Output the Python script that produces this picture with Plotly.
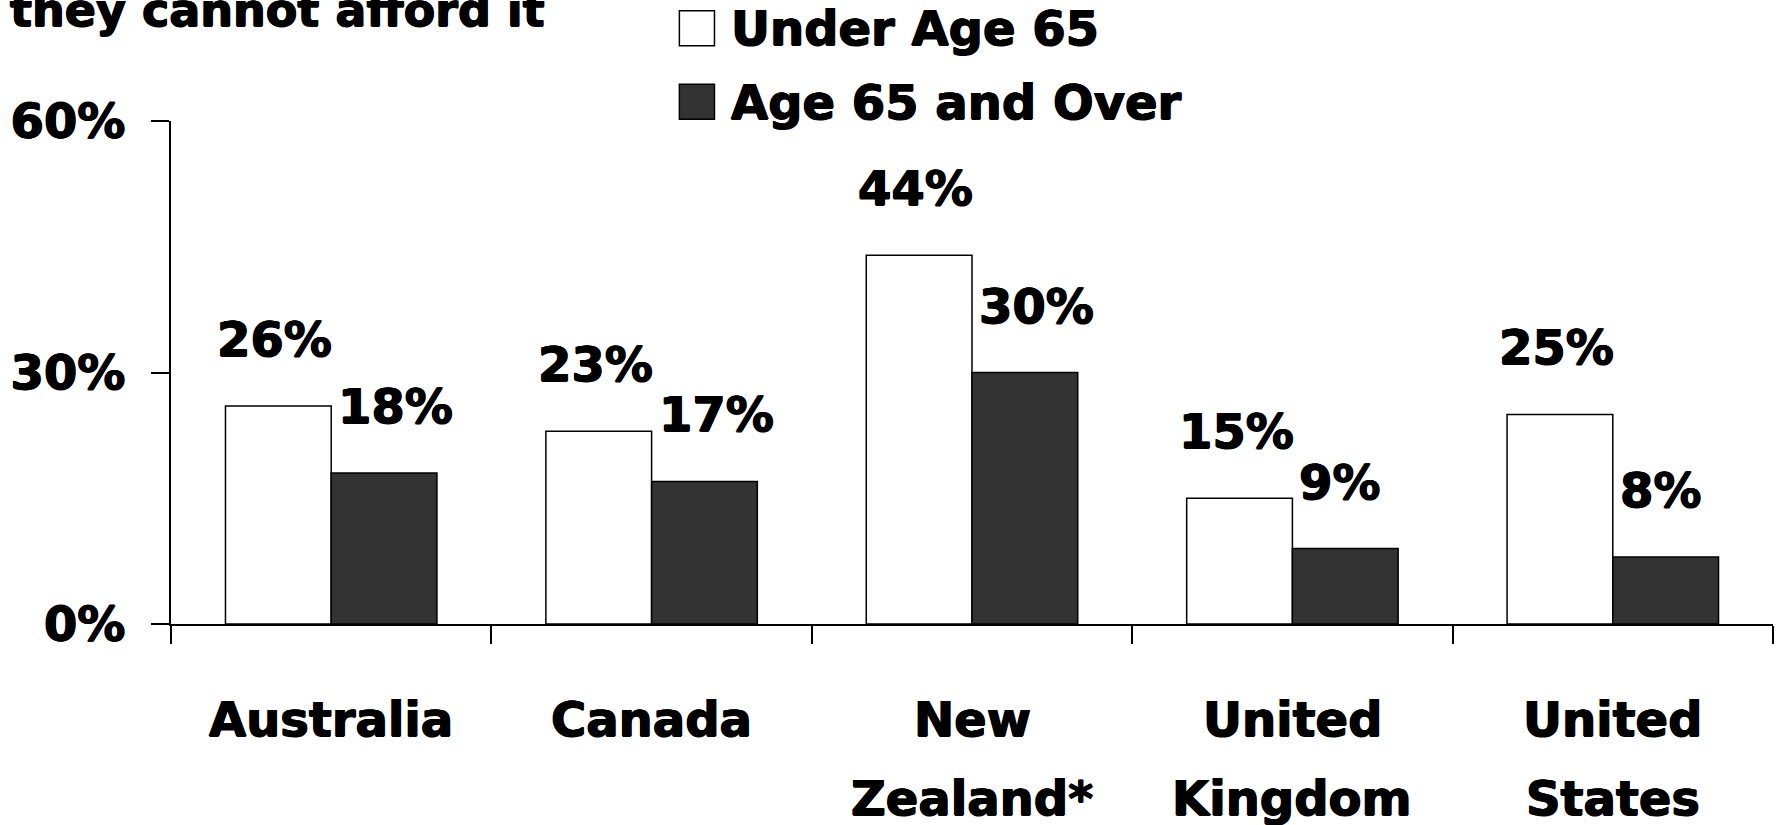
import plotly.graph_objects as go

# Data
categories = ["Australia", "Canada", "New Zealand*", "United Kingdom", "United States"]
category_lines = [["Australia"], ["Canada"], ["New", "Zealand*"], ["United", "Kingdom"], ["United", "States"]]
under_65 = [26, 23, 44, 15, 25]
age_65_over = [18, 17, 30, 9, 8]
series_names = ["Under Age 65", "Age 65 and Over"]
y_tick_vals = [0, 30, 60]
y_tick_text = ["0%", "30%", "60%"]
title_text = "they cannot afford it"

# Figure geometry (pixels)
W, H = 1779, 825
ML, MR, MT, MB = 171.2, 5.7, 120.7, 200.7
PW, PH = W - ML - MR, H - MT - MB

FONT = "DejaVu Sans"
FS = 48
BARGAP = 0.34
half = (1 - BARGAP) / 2
colors = ["#ffffff", "#333333"]
# slight outline to give the bold face a heavier look
HEAVY = "0.7px 0 0 #000, -0.7px 0 0 #000, 0 0.5px 0 #000, 0 -0.5px 0 #000"


def px_x(x):
    return (x - ML) / PW


def px_y(y):
    return (H - MB - y) / PH


fig = go.Figure()
for name, vals, col in zip(series_names, [under_65, age_65_over], colors):
    fig.add_trace(go.Bar(
        x=categories, y=vals, name=name,
        marker=dict(color=col, line=dict(color="#000000", width=1.5)),
        showlegend=False,
    ))

annotations = []
label_font = dict(family=FONT, size=FS, color="#000000", weight="bold", shadow=HEAVY)

# Value labels above the bars
for i, (a, b) in enumerate(zip(under_65, age_65_over)):
    annotations.append(dict(x=i - half, y=a, xref="x", yref="y", text=f"{a}%",
                            xanchor="left", yanchor="middle", xshift=-10, yshift=67,
                            showarrow=False, font=label_font))
    annotations.append(dict(x=i, y=b, xref="x", yref="y", text=f"{b}%",
                            xanchor="left", yanchor="middle", xshift=5, yshift=67,
                            showarrow=False, font=label_font))

# Category labels below the axis
for i, lines in enumerate(category_lines):
    for j, line in enumerate(lines):
        annotations.append(dict(x=i, y=px_y(719.5 + 79.5 * j), xref="x", yref="paper",
                                text=line, xanchor="center", yanchor="middle",
                                showarrow=False, font=label_font))

# Title fragment at the top-left
annotations.append(dict(x=px_x(8), y=px_y(10), xref="paper", yref="paper",
                        text=title_text, xanchor="left", yanchor="middle",
                        showarrow=False,
                        font=dict(family=FONT, size=46, color="#000000", weight="bold", shadow=HEAVY)))

# Legend drawn as boxes and labels
shapes = []
legend_rows = [27.8, 101.5]
for name, col, yc in zip(series_names, colors, legend_rows):
    shapes.append(dict(type="rect", xref="paper", yref="paper",
                       x0=px_x(679.6), x1=px_x(714.7), y0=px_y(yc - 17.5), y1=px_y(yc + 17.5),
                       fillcolor=col, line=dict(color="#000000", width=1.5)))
    annotations.append(dict(x=px_x(729.5), y=px_y(yc), xref="paper", yref="paper",
                            text=name, xanchor="left", yanchor="middle",
                            showarrow=False, font=label_font))

fig.update_layout(
    width=W, height=H,
    margin=dict(l=ML, r=MR, t=MT, b=MB, pad=0),
    paper_bgcolor="#ffffff", plot_bgcolor="#ffffff",
    barmode="group", bargap=BARGAP, bargroupgap=0,
    showlegend=False,
    annotations=annotations, shapes=shapes,
    xaxis=dict(type="category", range=[-0.5, len(categories) - 0.5],
               tickson="boundaries", ticks="outside", ticklen=18, tickwidth=1.5,
               tickcolor="#000000", showticklabels=False,
               showline=True, linecolor="#000000", linewidth=2,
               showgrid=False, zeroline=False, fixedrange=True),
    yaxis=dict(range=[0, 60], tickvals=y_tick_vals, ticktext=y_tick_text,
               ticks="outside", ticklen=18, tickwidth=1.5, tickcolor="#000000",
               ticklabelstandoff=16,
               tickfont=label_font,
               showline=True, linecolor="#000000", linewidth=2,
               showgrid=False, zeroline=False, fixedrange=True),
)

fig.write_html("out.html")
